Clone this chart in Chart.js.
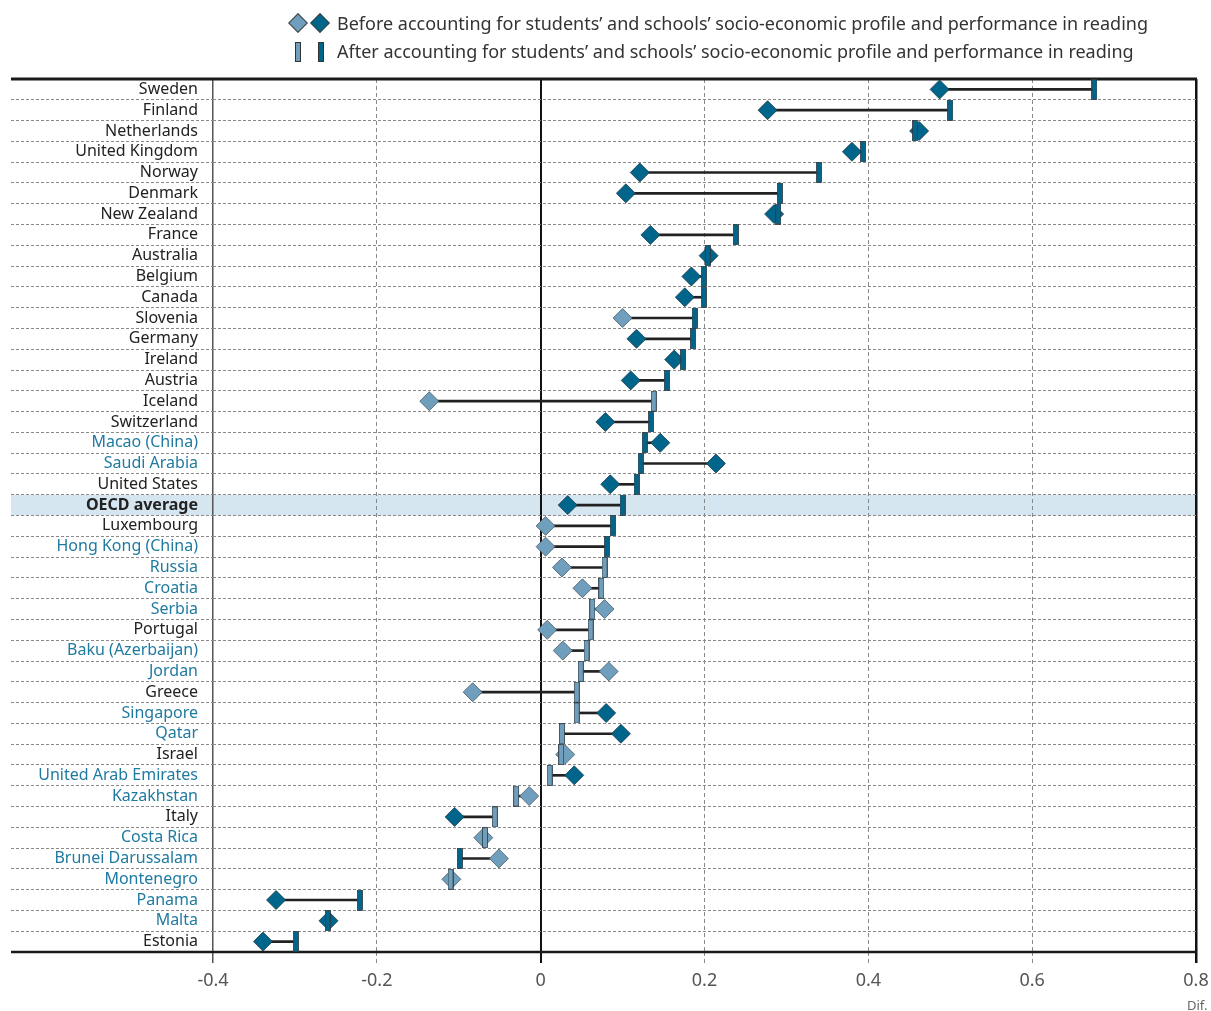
<!DOCTYPE html>
<html><head><meta charset="utf-8">
<script src="https://cdn.jsdelivr.net/npm/chart.js@4/dist/chart.umd.min.js"></script>
<style>
html,body{margin:0;padding:0;background:#fff;}
#wrap{position:relative;width:1211px;height:1011px;overflow:hidden;font-family:'Noto Sans',sans-serif;}
#c{position:absolute;left:0;top:0;}
.leg{position:absolute;left:337px;font-size:18px;color:#333;white-space:nowrap;line-height:20px;}
.dia{position:absolute;width:12px;height:12px;transform:rotate(45deg);border:1px solid #444;}
.bar{position:absolute;width:4px;height:18px;border:1px solid #333;}
#dif{position:absolute;left:1187px;top:996px;font-size:13px;color:#666;white-space:nowrap;}
</style></head>
<body>
<div id="wrap">
<canvas id="c" width="1211" height="1011"></canvas>
<div class="dia" style="left:291px;top:16px;background:#6f9fbd;"></div>
<div class="dia" style="left:313px;top:16px;background:#00658b;"></div>
<div class="leg" style="top:13px;">Before accounting for students’ and schools’ socio-economic profile and performance in reading</div>
<div class="bar" style="left:295px;top:42px;background:#6f9fbd;"></div>
<div class="bar" style="left:318px;top:42px;background:#00658b;"></div>
<div class="leg" style="top:41px;">After accounting for students’ and schools’ socio-economic profile and performance in reading</div>
<div id="dif">Dif.</div>
</div>
<script>
const countries = ['Sweden','Finland','Netherlands','United Kingdom','Norway','Denmark','New Zealand','France','Australia','Belgium','Canada','Slovenia','Germany','Ireland','Austria','Iceland','Switzerland','Macao (China)','Saudi Arabia','United States','OECD average','Luxembourg','Hong Kong (China)','Russia','Croatia','Serbia','Portugal','Baku (Azerbaijan)','Jordan','Greece','Singapore','Qatar','Israel','United Arab Emirates','Kazakhstan','Italy','Costa Rica','Brunei Darussalam','Montenegro','Panama','Malta','Estonia'];
const partner = [0,0,0,0,0,0,0,0,0,0,0,0,0,0,0,0,0,1,1,0,0,0,1,1,1,1,0,1,1,0,1,1,0,1,1,0,1,1,1,1,1,0];
const before = [0.487,0.277,0.462,0.380,0.121,0.104,0.285,0.134,0.205,0.184,0.176,0.100,0.117,0.163,0.110,-0.136,0.079,0.146,0.214,0.085,0.033,0.006,0.006,0.026,0.051,0.078,0.008,0.027,0.083,-0.083,0.080,0.098,0.030,0.041,-0.014,-0.105,-0.070,-0.051,-0.109,-0.323,-0.259,-0.339];
const after = [0.676,0.500,0.457,0.394,0.340,0.292,0.290,0.238,0.204,0.199,0.199,0.188,0.186,0.174,0.154,0.138,0.135,0.127,0.122,0.117,0.100,0.088,0.081,0.078,0.074,0.063,0.061,0.056,0.049,0.044,0.044,0.026,0.025,0.011,-0.030,-0.056,-0.068,-0.099,-0.110,-0.221,-0.260,-0.299];
const beforeSig = [1,1,1,1,1,1,1,1,1,1,1,0,1,1,1,0,1,1,1,1,1,0,0,0,0,0,0,0,0,0,1,1,0,1,0,1,0,0,0,1,1,1];
const afterSig = [1,1,1,1,1,1,1,1,1,1,1,1,1,1,1,0,1,1,1,1,1,1,1,0,0,0,0,0,0,0,0,0,0,0,0,0,0,1,0,1,1,1];
const xTickLabels = ['-0.4','-0.2','0','0.2','0.4','0.6','0.8'];

const DARK = '#00658b', LIGHT = '#6f9fbd';

function makeBar(color){
  const c = document.createElement('canvas'); c.width = 6; c.height = 21;
  const g = c.getContext('2d');
  g.fillStyle = color; g.fillRect(0.5,0.5,5,20);
  g.strokeStyle = '#2f3b42'; g.lineWidth = 0.8; g.strokeRect(0.5,0.5,5,20);
  return c;
}
const barDark = makeBar(DARK), barLight = makeBar(LIGHT);

const near = (a,b) => Math.abs(a-b) < 1e-6;

const decor = {
  id: 'decor',
  beforeDraw(chart){
    const ctx = chart.ctx, y = chart.scales.y, ca = chart.chartArea;
    const i = countries.indexOf('OECD average');
    const h = y.getPixelForValue(1) - y.getPixelForValue(0);
    const c = y.getPixelForValue(i);
    ctx.save(); ctx.fillStyle = '#d5e6f0';
    ctx.fillRect(11, c - h/2, ca.right - 11, h);
    ctx.restore();
  },
  beforeDatasetsDraw(chart){
    const ctx = chart.ctx, ca = chart.chartArea;
    ctx.save(); ctx.strokeStyle = '#1a1a1a';
    ctx.lineWidth = 3; ctx.beginPath(); ctx.moveTo(11, ca.top); ctx.lineTo(ca.right+1, ca.top); ctx.stroke();
    ctx.lineWidth = 2.5; ctx.beginPath(); ctx.moveTo(11, ca.bottom); ctx.lineTo(ca.right+1, ca.bottom); ctx.stroke();
    ctx.restore();
  }
};

new Chart(document.getElementById('c'), {
  type: 'bar',
  data: {
    labels: countries,
    datasets: [
      { type:'scatter', order:0, data: after.map((v,i)=>({x:v, y:countries[i]})),
        pointStyle: afterSig.map(s => s ? barDark : barLight), pointRadius: 10, clip:false },
      { type:'scatter', order:1, data: before.map((v,i)=>({x:v, y:countries[i]})),
        pointStyle:'rectRot', pointRadius:9.5, pointBorderWidth:0.8,
        pointBackgroundColor: beforeSig.map(s => s ? DARK : LIGHT),
        pointBorderColor: beforeSig.map(s => s ? '#1f3a48' : '#4a5a64'), clip:false },
      { type:'bar', order:2, data: before.map((v,i)=>[v, after[i]]),
        backgroundColor:'#222', barThickness:2 }
    ]
  },
  options: {
    indexAxis: 'y',
    responsive: false,
    animation: false,
    layout: { padding: { left: 11, top: 79, right: 15, bottom: 19 } },
    plugins: { legend: { display:false }, tooltip: { enabled:false } },
    scales: {
      x: {
        type:'linear', position:'bottom', min:-0.4, max:0.8,
        afterFit(s){ s.height = 40; s.paddingRight = 0; s.paddingLeft = 0; },
        ticks: { stepSize:0.2, padding:7, color:'#555', font:{family:'Noto Sans', size:18},
          callback:(v,i)=>xTickLabels[i] },
        grid: {
          tickLength: 11,
          color: c => c.tick ? (near(c.tick.value,0)||near(c.tick.value,0.8) ? '#111' : near(c.tick.value,-0.4) ? '#555' : '#8a8a8a') : '#8a8a8a',
          tickColor: c => c.tick ? (near(c.tick.value,0)||near(c.tick.value,0.8) ? '#111' : near(c.tick.value,-0.4) ? '#555' : '#8a8a8a') : '#8a8a8a',
          lineWidth: c => c.tick ? (near(c.tick.value,0) ? 2 : near(c.tick.value,0.8) ? 2.5 : near(c.tick.value,-0.4) ? 1.5 : 1) : 1,
          tickWidth: c => c.tick ? (near(c.tick.value,0) ? 2 : near(c.tick.value,0.8) ? 2.5 : near(c.tick.value,-0.4) ? 1.5 : 1) : 1,
          tickBorderDash: c => c.tick && (near(c.tick.value,0)||near(c.tick.value,0.8)||near(c.tick.value,-0.4)) ? [] : [4,3]
        },
        border: { display:false,
          dash: c => c.tick && (near(c.tick.value,0)||near(c.tick.value,0.8)||near(c.tick.value,-0.4)) ? [] : [4,3] }
      },
      y: {
        type:'category', position:'left', offset:true,
        afterFit(s){ s.width = 202; },
        ticks: { autoSkip:false, padding:-187,
          color: c => partner[c.index] ? '#1f7aa0' : '#222',
          font: c => ({ family:'Noto Sans', size:16, weight: countries[c.index]==='OECD average' ? 'bold' : 'normal' }) },
        grid: { offset:true, tickLength:202, color:'#8a8a8a', tickColor:'#8a8a8a', lineWidth:1, tickWidth:1,
          tickBorderDash:[3,2] },
        border: { display:false, dash:[3,2] }
      }
    }
  },
  plugins: [decor]
});
</script>
</body></html>
